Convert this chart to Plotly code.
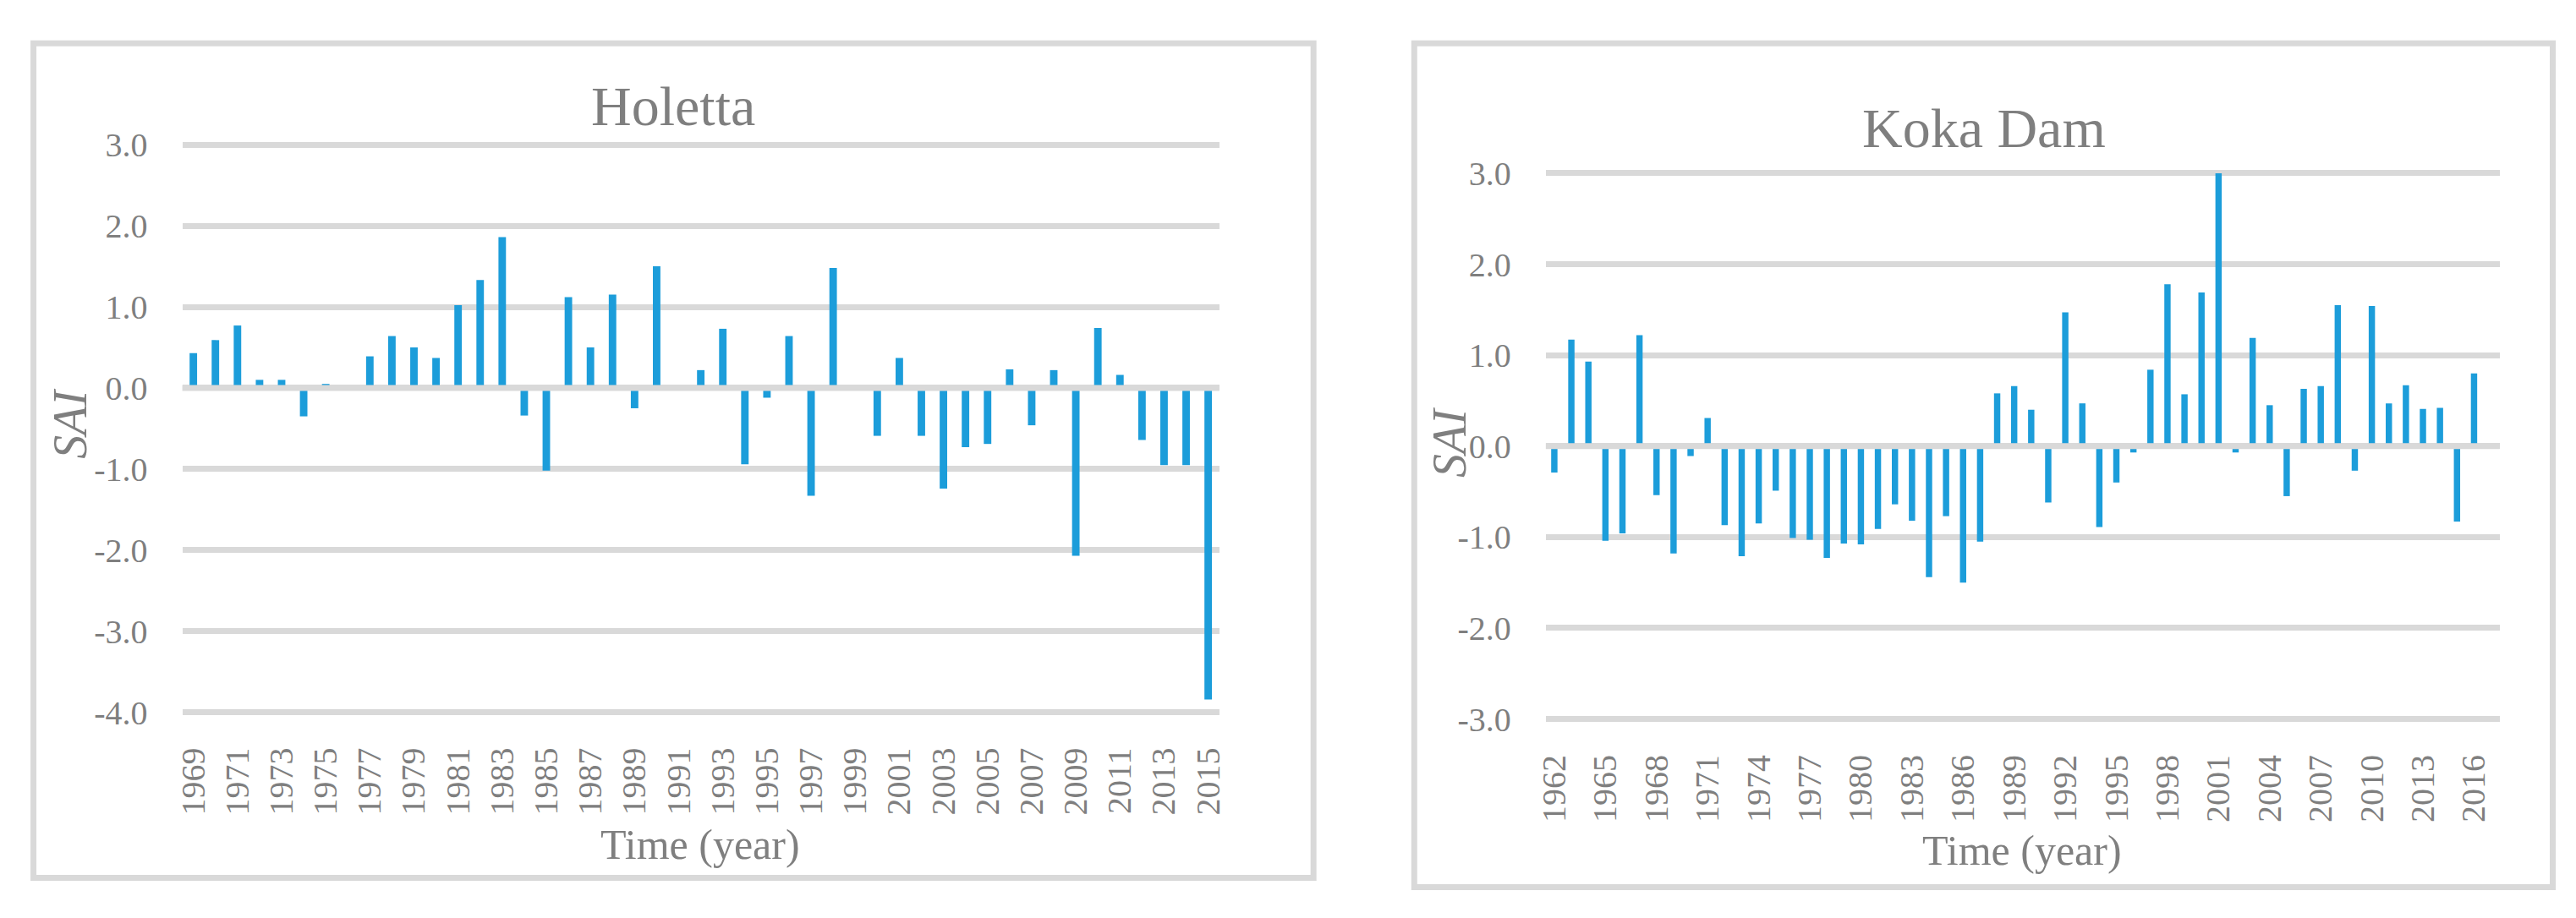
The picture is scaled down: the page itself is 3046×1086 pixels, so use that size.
import plotly.graph_objects as go

# ---------------- data ----------------
holetta_years = [1969, 1970, 1971, 1972, 1973, 1974, 1975, 1976, 1977, 1978,
                 1979, 1980, 1981, 1982, 1983, 1984, 1985, 1986, 1987, 1988,
                 1989, 1990, 1991, 1992, 1993, 1994, 1995, 1996, 1997, 1998,
                 1999, 2000, 2001, 2002, 2003, 2004, 2005, 2006, 2007, 2008,
                 2009, 2010, 2011, 2012, 2013, 2014, 2015]
holetta_sai = [0.43, 0.59, 0.77, 0.10, 0.10, -0.35, 0.05, 0.0, 0.39, 0.64,
               0.50, 0.37, 1.02, 1.33, 1.86, -0.34, -1.02, 1.12, 0.50, 1.15,
               -0.25, 1.50, 0.0, 0.22, 0.73, -0.94, -0.12, 0.64, -1.33, 1.48,
               0.0, -0.59, 0.37, -0.59, -1.24, -0.73, -0.69, 0.23, -0.46, 0.22,
               -2.07, 0.74, 0.16, -0.64, -0.95, -0.95, -3.84]
holetta_xtick_vals = [1969, 1971, 1973, 1975, 1977, 1979, 1981, 1983, 1985, 1987,
                      1989, 1991, 1993, 1995, 1997, 1999, 2001, 2003, 2005, 2007,
                      2009, 2011, 2013, 2015]
holetta_xtick_text = [str(v) for v in holetta_xtick_vals]
holetta_ytick_vals = [-4, -3, -2, -1, 0, 1, 2, 3]
holetta_ytick_text = ["-4.0", "-3.0", "-2.0", "-1.0", "0.0", "1.0", "2.0", "3.0"]

koka_years = [1962, 1963, 1964, 1965, 1966, 1967, 1968, 1969, 1970, 1971,
              1972, 1973, 1974, 1975, 1976, 1977, 1978, 1979, 1980, 1981,
              1982, 1983, 1984, 1985, 1986, 1987, 1988, 1989, 1990, 1991,
              1992, 1993, 1994, 1995, 1996, 1997, 1998, 1999, 2000, 2001,
              2002, 2003, 2004, 2005, 2006, 2007, 2008, 2009, 2010, 2011,
              2012, 2013, 2014, 2015, 2016]
koka_sai = [-0.29, 1.17, 0.93, -1.04, -0.96, 1.22, -0.54, -1.18, -0.11, 0.31,
            -0.87, -1.21, -0.85, -0.49, -1.01, -1.03, -1.23, -1.07, -1.08, -0.91,
            -0.64, -0.82, -1.44, -0.77, -1.50, -1.05, 0.58, 0.66, 0.40, -0.62,
            1.47, 0.47, -0.89, -0.40, -0.07, 0.84, 1.78, 0.57, 1.69, 3.00,
            -0.07, 1.19, 0.45, -0.55, 0.63, 0.66, 1.55, -0.27, 1.54, 0.47,
            0.67, 0.41, 0.42, -0.83, 0.80]
koka_xtick_vals = [1962, 1965, 1968, 1971, 1974, 1977, 1980, 1983, 1986, 1989,
                   1992, 1995, 1998, 2001, 2004, 2007, 2010, 2013, 2016]
koka_xtick_text = [str(v) for v in koka_xtick_vals]
koka_ytick_vals = [-3, -2, -1, 0, 1, 2, 3]
koka_ytick_text = ["-3.0", "-2.0", "-1.0", "0.0", "1.0", "2.0", "3.0"]

# ---------------- style ----------------
W, H = 3046, 1086
BLUE = "#1C9DDA"
GRID = "#D9D9D9"
TXT = "#7F7F7F"
FONT = "Liberation Serif, Times New Roman, serif"


def px_x(p):
    return p / W


def px_y(p):
    return 1 - p / H


fig = go.Figure()
fig.add_trace(go.Bar(x=holetta_years, y=holetta_sai, width=0.34,
                     marker=dict(color=BLUE, line=dict(width=0)),
                     xaxis="x", yaxis="y", showlegend=False))
fig.add_trace(go.Bar(x=koka_years, y=koka_sai, width=0.37,
                     marker=dict(color=BLUE, line=dict(width=0)),
                     xaxis="x2", yaxis="y2", showlegend=False))

xcommon = dict(showgrid=False, zeroline=False, showline=False,
               ticks="outside", ticklen=20, tickcolor="rgba(0,0,0,0)",
               tickangle=-90, tickfont=dict(family=FONT, size=40, color=TXT),
               fixedrange=True)
ycommon = dict(showgrid=True, gridcolor=GRID, gridwidth=7, zeroline=False,
               showline=False, ticks="outside", ticklen=32,
               tickcolor="rgba(0,0,0,0)",
               tickfont=dict(family=FONT, size=40, color=TXT), fixedrange=True)

fig.update_layout(
    width=W, height=H,
    margin=dict(l=0, r=0, t=0, b=0),
    paper_bgcolor="white", plot_bgcolor="white",
    font=dict(family=FONT, color=TXT),
    showlegend=False,
    xaxis=dict(xcommon, domain=[px_x(196), px_x(1431)], anchor="y",
               range=[1968.5, 2015.5], tickmode="array",
               tickvals=holetta_xtick_vals, ticktext=holetta_xtick_text),
    yaxis=dict(ycommon, domain=[px_y(850), px_y(146)], anchor="x",
               range=[-4.05, 3.05], tickmode="array",
               tickvals=holetta_ytick_vals, ticktext=holetta_ytick_text),
    xaxis2=dict(xcommon, domain=[px_x(1820), px_x(2956)], anchor="y2",
                range=[1961.5, 2017.5], tickmode="array",
                tickvals=koka_xtick_vals, ticktext=koka_xtick_text),
    yaxis2=dict(ycommon, domain=[px_y(858.6), px_y(180.4)], anchor="x2",
                range=[-3.05, 3.05], tickmode="array",
                tickvals=koka_ytick_vals, ticktext=koka_ytick_text),
)

shapes = [
    # panel borders
    dict(type="rect", xref="paper", yref="paper",
         x0=px_x(18.7), x1=px_x(1543.3), y0=px_y(1047.3), y1=px_y(27),
         line=dict(color=GRID, width=7), layer="below"),
    dict(type="rect", xref="paper", yref="paper",
         x0=px_x(1663.3), x1=px_x(3019.3), y0=px_y(1058.7), y1=px_y(27),
         line=dict(color=GRID, width=7), layer="below"),
    # zero lines drawn over the bars
    dict(type="line", xref="x domain", yref="y", x0=0, x1=1, y0=0, y1=0,
         line=dict(color=GRID, width=7), layer="above"),
    dict(type="line", xref="x2 domain", yref="y2", x0=0, x1=1, y0=0, y1=0,
         line=dict(color=GRID, width=7), layer="above"),
]
fig.update_layout(shapes=shapes)

ann = [
    dict(text="Holetta", x=px_x(781), y=px_y(104), font=dict(size=66)),
    dict(text="Koka Dam", x=px_x(2342), y=px_y(131), font=dict(size=66)),
    dict(text="Time (year)", x=px_x(813), y=px_y(1006), font=dict(size=50)),
    dict(text="Time (year)", x=px_x(2387), y=px_y(1014), font=dict(size=50)),
    dict(text="<i>SAI</i>", x=px_x(63), y=px_y(492), font=dict(size=56),
         textangle=-90),
    dict(text="<i>SAI</i>", x=px_x(1706), y=px_y(515), font=dict(size=56),
         textangle=-90),
]
for a in ann:
    a.update(xref="paper", yref="paper", showarrow=False,
             xanchor="center", yanchor="middle")
    a["font"].update(family=FONT, color=TXT)
fig.update_layout(annotations=ann)

fig.write_html("out.html")
